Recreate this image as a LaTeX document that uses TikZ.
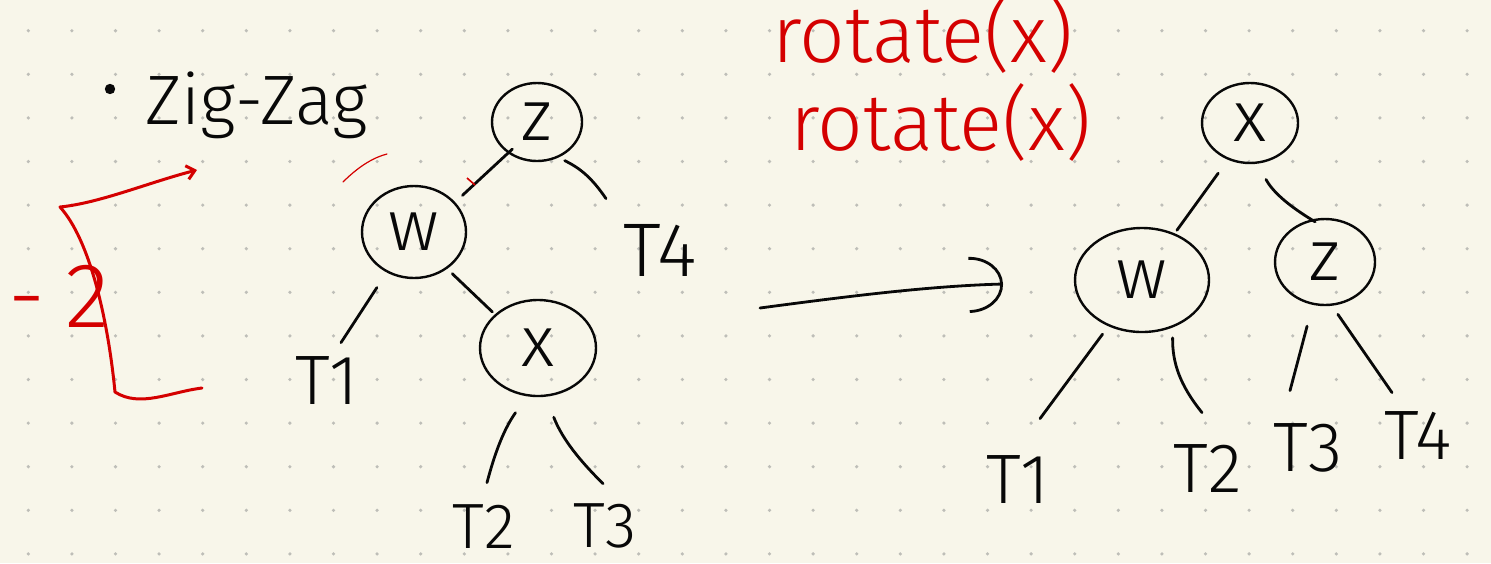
\documentclass[tikz,border=0pt]{standalone}
\usepackage{fontspec}
\setmainfont{Fira Sans Light}
\usetikzlibrary{shapes.geometric,arrows.meta}
\definecolor{paper}{RGB}{248,246,234}
\definecolor{griddot}{RGB}{190,190,184}
\definecolor{ink}{RGB}{8,8,8}
\definecolor{penred}{RGB}{212,0,0}
\tikzset{
  treenode/.style={ellipse, draw=ink, line width=1.2pt, inner sep=0pt, text=ink,
    font=\fontsize{36}{36}\selectfont},
  leaf/.style={inner sep=0pt, text height=24pt, text depth=0pt, text=ink,
    font=\fontsize{35}{35}\selectfont},
  edge/.style={draw=ink, line width=1.4pt, line cap=round},
  redpen/.style={draw=penred, line width=1.5pt, line cap=round, line join=round},
  redtext/.style={text=penred, inner sep=0pt, anchor=base west,
    font=\fontsize{40}{40}\selectfont},
}
\begin{document}
\begin{tikzpicture}[x=0.5pt, y=-0.5pt]
  % paper and dot grid
  \fill[paper] (0,0) rectangle (1491,563);
  \useasboundingbox (0,0) rectangle (1491,563);
  \foreach \i in {0,...,33}{
    \foreach \j in {0,...,12}{
      \fill[griddot] (28.3+43.6*\i, 30.7+43.6*\j) circle[radius=0.9pt];
    }
  }

  % heading
  \fill[ink] (110,89) circle[radius=2.6pt];
  \node[text=ink, anchor=base west, inner sep=0pt, font=\fontsize{35}{35}\selectfont]
    (title) at (145,124) {Zig-Zag};
  \draw[draw=penred, line width=0.6pt, line cap=round]
    (343,182) .. controls (360,165) and (375,157) .. (387,154);

  % red bracket with -2
  \coordinate (brTop) at (197,170);
  \coordinate (brBot) at (202,388);
  \draw[redpen, -{Straight Barb[length=4pt,width=7pt]}]
    (brBot) .. controls (170,392) and (140,408) .. (115,392)
            .. controls (108,320) and (90,240) .. (60,207)
            .. controls (100,203) and (150,182) .. (brTop);
  \node[redtext, font=\fontsize{46}{46}\selectfont] (minustwo) at (8,327) {-\hspace{10pt}2};

  % left tree: z over w, x is the right child of w
  \node[treenode, minimum width=45pt, minimum height=39pt] (zL) at (537,122) {z};
  \node[treenode, minimum width=52pt, minimum height=46pt] (wL) at (414,232) {w};
  \node[treenode, minimum width=58pt, minimum height=48pt] (xL) at (538,348) {x};
  \node[leaf] (T1L) at (327,380) {T1};
  \node[leaf, font=\fontsize{38}{38}\selectfont, text height=26pt] (T4L) at (660,250) {T4};
  \node[leaf, font=\fontsize{32}{32}\selectfont, text height=22pt] (T2L) at (484,526) {T2};
  \node[leaf, font=\fontsize{32}{32}\selectfont, text height=22pt] (T3L) at (605,525) {T3};

  \draw[edge, shorten <=5pt, shorten >=-3pt] (wL.36) -- (zL.227);
  \draw[draw=penred, line width=0.8pt] (467,178) -- (475,185);
  \draw[edge, shorten <=3.5pt] (zL.-59) to[bend left=15] ([shift={(-54,-25)}]T4L.north);
  \draw[edge, shorten <=9pt] (wL.236) -- ([shift={(14,-13)}]T1L.north);
  \draw[edge, shorten <=3.5pt, shorten >=1.75pt] (wL.-48) -- (xL.142);
  \draw[edge, shorten <=10pt] (xL.257) to[bend right=10] ([shift={(3,-21)}]T2L.north);
  \draw[edge, shorten <=11pt] (xL.-81) to[bend right=12] ([shift={(-2,-19)}]T3L.north);

  % rotation note
  \node[redtext] (rotone) at (772,62) {rotate(x)};
  \node[redtext] (rottwo) at (790,150) {rotate(x)};

  % transformation arrow
  \coordinate (arrowTail) at (760,308);
  \coordinate (arrowTip) at (1003,284);
  \draw[edge, -{Arc Barb[length=17pt,width=28pt]}]
    (arrowTail) .. controls (850,296) and (930,286) .. (arrowTip);

  % right tree: x over w and z
  \node[treenode, minimum width=48pt, minimum height=40pt] (xR) at (1250,123) {x};
  \node[treenode, minimum width=67pt, minimum height=52pt] (wR) at (1142,280) {w};
  \node[treenode, minimum width=50pt, minimum height=43pt] (zR) at (1325,262) {z};
  \node[leaf] (T1R) at (1018,479) {T1};
  \node[leaf] (T2R) at (1208,468) {T2};
  \node[leaf] (T3R) at (1308,447) {T3};
  \node[leaf] (T4R) at (1418,435) {T4};

  \draw[edge, shorten <=8.3pt, shorten >=1.9pt] (xR.239) -- (wR.55);
  \draw[edge, shorten <=9pt, shorten >=-2.3pt] (xR.-80) to[bend right=15] (zR.108);
  \draw[edge, shorten <=4.9pt] (wR.234) -- ([shift={(22,-36)}]T1R.north);
  \draw[edge, shorten <=5.2pt] (wR.-57) to[bend right=20] ([shift={(-6,-31)}]T2R.north);
  \draw[edge, shorten <=11pt] (zR.254) -- ([shift={(-18,-32)}]T3R.north);
  \draw[edge, shorten <=5.2pt] (zR.-81) -- ([shift={(-26,-18)}]T4R.north);
\end{tikzpicture}
\end{document}
